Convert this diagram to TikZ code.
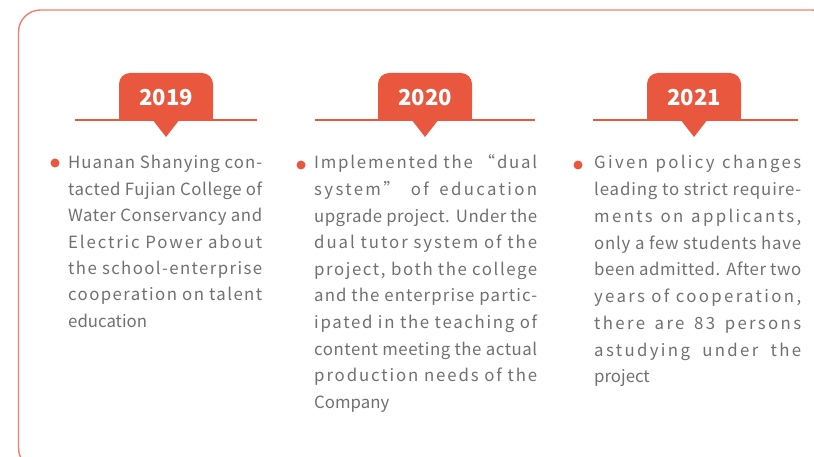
\documentclass[tikz,border=0pt]{standalone}
\usepackage{fontspec}
\newfontfamily\bodyfont{Noto Sans CJK SC}
\definecolor{tagred}{HTML}{E9573F}
\definecolor{framered}{HTML}{F2806E}
\definecolor{bodygray}{HTML}{707070}
\newlength\colw
\newlength\wnat
\newlength\wsp
\newcommand\jline[1]{%
  \setbox0\hbox{#1}\setlength\wnat{\wd0}%
  \setbox2\hbox{\addfontfeature{LetterSpace=10}#1}\setlength\wsp{\wd2}%
  \pgfmathsetmacro\lsval{max(0,min(14,10*(\colw-\wnat)/(\wsp-\wnat)))}%
  \hbox to \colw{\addfontfeature{LetterSpace=\lsval}\spaceskip=.22em plus 1fil\relax #1}}
\newcommand\lastline[1]{\hbox{#1}}
\tikzset{
  tagshape/.style={fill=tagred},
  tagline/.style={draw=tagred, line width=1.3pt},
  tagtext/.style={text=white, font=\bodyfont\bfseries\fontsize{22}{26}\selectfont, inner sep=0pt},
  bodytext/.style={text=bodygray, font=\bodyfont\fontsize{16.8}{26.6}\selectfont, inner sep=0pt, anchor=base west},
  bulletdot/.style={circle, fill=tagred, minimum size=9pt, inner sep=0pt}
}
\begin{document}
\begin{tikzpicture}[x=1pt,y=-1pt]
\useasboundingbox (0,0) rectangle (814,457);
\begin{scope}
\clip (0,0) rectangle (814,457);
\draw[framered, line width=1.4pt, rounded corners=22pt] (18.5,10) rectangle (834,470);
\end{scope}
% tags
\foreach \cx/\la/\lb/\yr/\nm in {166/75/257/2019/t1, 425/315/535/2020/t2, 694/593/798/2021/t3}{
  \draw[tagline] (\la,120) -- (\lb,120);
  \fill[tagshape, rounded corners=11pt] (\cx-47,73) rectangle (\cx+47,120.5);
  \fill[tagshape] (\cx-47,100) rectangle (\cx+47,120.5);
  \fill[tagshape] (\cx-14,119) -- (\cx+14,119) -- (\cx,137) -- cycle;
  \node[tagtext] (\nm) at (\cx,98) {\yr};
}
% bullets
\node[bulletdot] (b1) at (55,163) {};
\node[bulletdot] (b2) at (301,165) {};
\node[bulletdot] (b3) at (578,165) {};
% texts
\node[bodytext] (c1) at (68,169) {\setlength\colw{194pt}\vtop{\baselineskip=26.4pt
\jline{Huanan Shanying con-}
\jline{tacted Fujian College of}
\jline{Water Conservancy and}
\jline{Electric Power about}
\jline{the school-enterprise}
\jline{cooperation on talent}
\lastline{education}}};
\node[bodytext] (c2) at (314,169) {\setlength\colw{223pt}\vtop{\baselineskip=26.6pt
\jline{Implemented the “dual}
\jline{system” of education}
\jline{upgrade project. Under the}
\jline{dual tutor system of the}
\jline{project, both the college}
\jline{and the enterprise partic-}
\jline{ipated in the teaching of}
\jline{content meeting the actual}
\jline{production needs of the}
\lastline{Company}}};
\node[bodytext] (c3) at (594,169) {\setlength\colw{207pt}\vtop{\baselineskip=26.75pt
\jline{Given policy changes}
\jline{leading to strict require-}
\jline{ments on applicants,}
\jline{only a few students have}
\jline{been admitted. After two}
\jline{years of cooperation,}
\jline{there are 83 persons}
\jline{astudying under the}
\lastline{project}}};
\end{tikzpicture}
\end{document}
